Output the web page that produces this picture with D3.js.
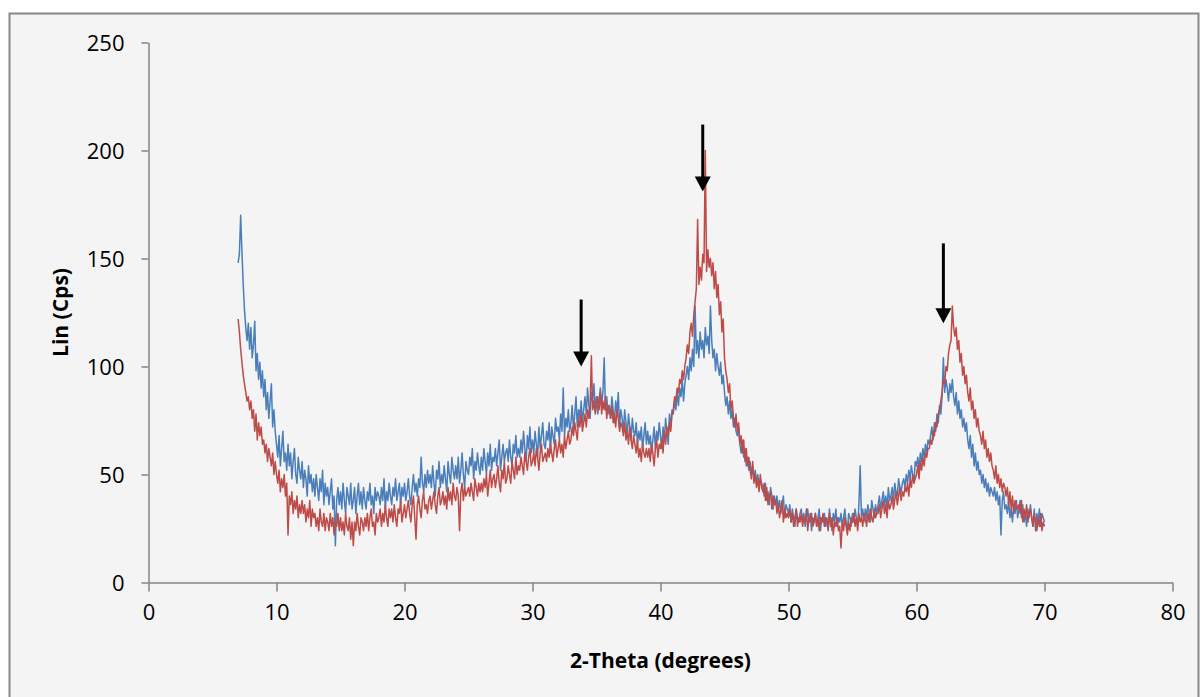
<!DOCTYPE html>
<html>
<head>
<meta charset="utf-8">
<script src="https://cdn.jsdelivr.net/npm/d3@7"></script>
<style>
  body { margin: 0; background: #fff; }
  .axis path, .axis line { stroke: #868686; stroke-width: 1.5; }
  .axis text { font-family: "Open Sans", sans-serif; font-size: 22px; fill: #000; }
  .title { font-family: "Open Sans", sans-serif; font-weight: bold; font-size: 21px; }
</style>
</head>
<body>
<div class="chart"></div>
<script>
// x grid: 7.0 .. 70.0 degrees, every 0.1 (one row = one degree)
const xStart = 7.0;
const xStep = 0.1;

const blueCps = [
  148,152,170,153,138,126,118,112,120,108,
  118,104,110,121,98,106,94,102,90,98,
  86,94,80,88,76,84,92,72,80,70,
  64,58,68,54,62,70,56,60,52,64,
  54,60,48,56,62,50,46,58,52,48,
  56,44,52,48,40,54,46,50,42,48,
  40,50,44,38,48,42,52,36,46,40,
  44,36,42,48,34,40,17,38,44,36,
  42,34,46,38,32,44,40,36,46,34,
  38,44,32,40,46,36,42,34,44,38,
  34,42,38,46,36,40,32,44,38,42,
  40,36,44,38,48,34,42,38,46,40,
  36,44,40,48,38,42,46,36,44,40,
  46,38,42,48,40,36,44,50,42,46,
  40,48,44,58,46,42,50,44,52,46,
  50,44,54,46,40,52,48,56,44,50,
  46,54,48,42,56,50,46,58,52,48,
  54,48,58,46,52,60,50,44,56,52,
  50,58,54,62,48,56,52,60,54,50,
  58,52,62,56,50,60,54,64,52,58,
  56,62,54,60,66,52,58,64,56,60,
  62,56,66,58,54,64,60,68,58,62,
  58,66,60,70,62,56,68,62,72,60,
  66,60,70,64,58,72,62,68,74,64,
  62,70,66,74,60,72,68,64,76,70,
  72,66,78,70,90,68,76,72,80,70,
  74,82,70,78,86,72,80,76,84,74,
  80,86,78,90,82,76,88,84,92,80,
  86,78,84,90,82,88,104,80,86,78,
  82,76,86,80,74,84,78,88,72,80,
  76,70,80,74,68,78,72,66,76,70,
  68,74,64,70,66,72,62,68,74,64,
  70,64,68,60,66,72,62,70,66,74,
  68,62,72,66,76,70,64,78,72,80,
  78,84,80,88,82,90,86,94,84,92,
  96,100,94,104,98,108,100,128,106,112,
  104,116,108,112,104,118,110,114,106,128,
  112,104,108,98,106,100,96,102,92,96,
  88,82,86,78,84,76,80,72,76,70,
  68,72,64,60,66,58,62,54,58,52,
  56,50,54,48,52,46,50,44,48,46,
  44,40,46,38,42,36,44,40,34,40,
  36,40,34,38,32,36,40,30,36,34,
  32,36,28,34,30,26,34,30,28,32,
  34,28,32,26,30,34,28,32,24,30,
  28,32,26,30,34,24,30,28,32,26,
  30,26,34,28,24,32,28,34,26,30,
  28,32,26,30,34,28,24,32,30,26,
  32,28,34,30,26,36,54,30,34,28,
  34,30,36,32,28,38,34,30,36,32,
  36,40,34,38,42,36,40,34,44,38,
  40,44,38,46,42,40,48,44,42,46,
  48,44,50,46,52,48,54,50,46,56,
  54,58,52,60,56,62,58,64,60,66,
  64,68,72,66,74,70,78,74,82,78,
  86,104,88,94,90,84,92,88,94,86,
  82,88,78,84,76,80,72,76,70,74,
  66,62,68,58,64,54,60,52,56,50,
  52,46,50,44,48,42,46,40,44,42,
  40,44,38,42,36,40,22,38,42,34,
  36,32,38,30,34,28,36,32,38,30,
  34,38,30,36,28,32,26,34,30,36,
  30,26,34,24,32,28,34,26,32,30,
  28
];

const redCps = [
  122,116,108,102,96,92,88,84,86,80,
  84,76,80,70,78,66,74,68,72,64,
  66,60,64,56,62,58,54,60,50,56,
  50,46,52,42,48,44,50,40,46,22,
  40,36,42,32,38,34,40,30,36,32,
  38,32,36,28,34,30,38,26,34,30,
  32,26,30,24,34,28,26,32,24,30,
  28,24,32,26,30,22,28,26,32,24,
  30,24,28,22,32,26,24,30,20,28,
  17,28,24,32,26,22,30,28,24,30,
  26,32,24,30,34,26,28,22,32,28,
  30,34,26,32,28,36,30,26,34,30,
  34,28,36,30,26,34,32,38,28,32,
  36,30,34,38,32,28,36,40,30,20,
  36,40,34,30,38,42,34,36,32,38,
  40,34,38,42,36,32,40,44,36,38,
  42,36,40,34,44,38,42,36,46,40,
  38,44,40,24,42,46,38,44,40,42,
  44,40,46,42,38,48,44,40,46,42,
  46,42,48,44,50,40,46,52,44,48,
  50,44,48,54,46,42,52,48,56,46,
  48,54,50,46,56,52,48,58,50,54,
  52,58,54,50,60,56,52,58,62,54,
  56,60,54,62,58,52,60,64,56,58,
  60,56,62,58,64,60,56,62,66,58,
  62,66,60,64,58,68,62,66,70,64,
  66,72,68,74,70,66,76,72,78,70,
  74,78,72,80,76,82,105,80,84,78,
  82,86,80,88,78,84,80,86,76,82,
  80,76,82,74,78,72,80,76,70,74,
  72,68,74,66,70,64,72,66,62,68,
  64,60,66,58,62,56,64,60,58,62,
  58,62,56,64,60,54,62,66,58,64,
  62,66,60,70,64,72,68,74,70,78,
  80,86,84,90,88,94,92,98,94,100,
  104,110,106,116,120,114,124,130,136,168,
  138,146,140,152,148,200,144,154,146,150,
  142,148,136,144,132,138,124,130,116,122,
  104,98,94,88,92,80,84,76,72,78,
  70,74,64,68,60,66,56,62,54,58,
  52,48,56,46,50,44,48,42,50,44,
  42,46,38,44,36,40,42,34,40,36,
  38,32,36,30,34,38,28,34,30,32,
  30,34,28,32,26,30,34,26,30,28,
  32,26,30,28,34,24,30,28,32,26,
  28,32,26,30,24,30,28,32,26,30,
  28,24,32,26,30,22,28,26,30,24,
  26,16,28,24,30,26,22,28,24,30,
  28,32,26,30,24,32,28,30,26,32,
  30,26,32,28,34,30,28,34,30,32,
  32,36,30,34,38,32,36,30,38,34,
  36,40,34,38,42,36,40,44,38,42,
  40,44,42,46,40,48,44,50,46,48,
  50,54,48,56,52,58,54,60,58,62,
  62,66,64,70,68,74,72,78,80,84,
  88,94,92,100,98,106,110,112,128,118,
  114,118,108,112,102,106,96,100,92,96,
  88,84,90,80,84,76,80,72,76,70,
  68,64,70,62,66,58,62,56,60,54,
  52,48,54,46,50,44,48,42,46,44,
  40,44,36,42,34,40,32,38,36,34,
  36,32,38,28,34,30,36,28,32,34,
  30,26,32,28,24,30,26,32,24,28,
  26
];

// peak markers (degrees, arrow top, arrow tip in Cps)
const arrowX = [33.8, 43.3, 62.1];
const arrowTop = [131, 212, 157];
const arrowTip = [100, 181, 120];

const xTicks = [0, 10, 20, 30, 40, 50, 60, 70, 80];
const yTicks = [0, 50, 100, 150, 200, 250];

const width = 1202;
const height = 697;

const svg = d3.select('.chart')
  .append('svg')
  .attr('width', width)
  .attr('height', height);

// chart area with grey frame
svg.append('rect')
  .attr('x', 9.5)
  .attr('y', 13.5)
  .attr('width', 1189)
  .attr('height', 700)
  .attr('fill', '#f4f4f4')
  .attr('stroke', '#878787')
  .attr('stroke-width', 2);

const xScale = d3.scaleLinear().domain([0, 80]).range([148.5, 1172.5]);
const yScale = d3.scaleLinear().domain([0, 250]).range([582.5, 42.5]);

const xAxis = d3.axisBottom(xScale)
  .tickValues(xTicks)
  .tickSize(9)
  .tickSizeOuter(0)
  .tickPadding(10);

const yAxis = d3.axisLeft(yScale)
  .tickValues(yTicks)
  .tickSize(7)
  .tickSizeOuter(0)
  .tickPadding(17);

svg.append('g')
  .attr('class', 'axis x-axis')
  .attr('transform', `translate(0, ${yScale(0)})`)
  .call(xAxis)
  .selectAll('text')
  .attr('dy', '0.85em');

svg.append('g')
  .attr('class', 'axis y-axis')
  .attr('transform', `translate(${xScale(0)}, 0)`)
  .call(yAxis)
  .selectAll('text')
  .attr('dy', '0.36em');

// series
const line = d3.line()
  .x((d, i) => xScale(xStart + i * xStep))
  .y(d => yScale(d));

svg.append('path')
  .datum(blueCps)
  .attr('fill', 'none')
  .attr('stroke', '#4a7ebb')
  .attr('stroke-width', 1.5)
  .attr('stroke-linejoin', 'round')
  .attr('d', line);

svg.append('path')
  .datum(redCps)
  .attr('fill', 'none')
  .attr('stroke', '#be4b48')
  .attr('stroke-width', 1.5)
  .attr('stroke-linejoin', 'round')
  .attr('d', line);

// arrows
const headH = 15, headW = 8;
arrowX.forEach((a, i) => {
  const x = xScale(a);
  const tip = yScale(arrowTip[i]);
  svg.append('line')
    .attr('x1', x).attr('x2', x)
    .attr('y1', yScale(arrowTop[i]))
    .attr('y2', tip - headH + 1)
    .attr('stroke', '#000')
    .attr('stroke-width', 3);
  svg.append('path')
    .attr('d', `M${x - headW},${tip - headH}L${x + headW},${tip - headH}L${x},${tip}Z`)
    .attr('fill', '#000');
});

// axis titles
svg.append('text')
  .attr('class', 'title')
  .attr('x', xScale(40))
  .attr('y', 668)
  .attr('text-anchor', 'middle')
  .text('2-Theta (degrees)');

svg.append('text')
  .attr('class', 'title')
  .attr('transform', `translate(68, ${yScale(125)}) rotate(-90)`)
  .attr('text-anchor', 'middle')
  .text('Lin (Cps)');
</script>
</body>
</html>
